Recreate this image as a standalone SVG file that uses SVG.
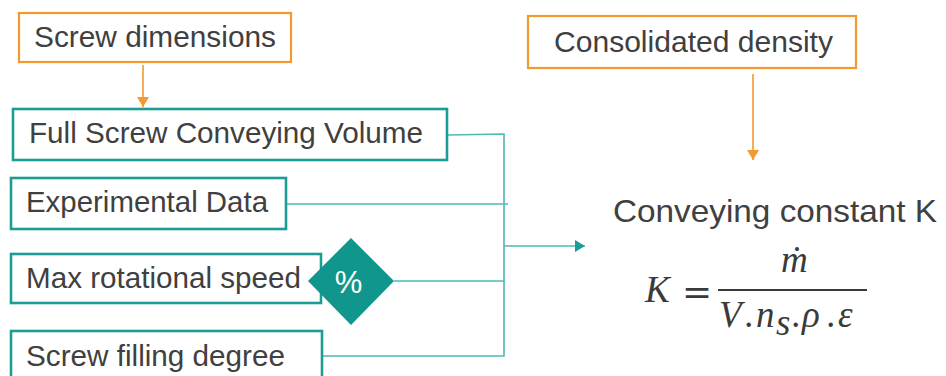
<svg xmlns="http://www.w3.org/2000/svg" width="946" height="376" viewBox="0 0 946 376">
<defs>
<style>
.tbox{fill:#fff;stroke:#1b9d95;stroke-width:2.6}
.obox{fill:#fff;stroke:#f29a2e;stroke-width:2.2}
.lbl{font-family:"Liberation Sans",Arial,sans-serif;font-size:29.5px;fill:#404040}
.con{fill:none;stroke:#4dbab3;stroke-width:1.6}
.ocon{fill:none;stroke:#f29a2e;stroke-width:1.6}
.math{font-family:"Liberation Serif","Times New Roman",serif;font-style:italic;font-size:37px;fill:#3a3a3a}
</style>
<marker id="ah-o" markerWidth="12" markerHeight="12" refX="10" refY="6" orient="auto" markerUnits="userSpaceOnUse"><path d="M0,0 L10,6 L0,12 Z" fill="#f29a2e"/></marker>
<marker id="ah-t" markerWidth="12" markerHeight="12" refX="10" refY="6" orient="auto" markerUnits="userSpaceOnUse"><path d="M0,0 L10,6 L0,12 Z" fill="#1b9d95"/></marker>
</defs>
<rect width="946" height="376" fill="#fff"/>
<g id="connectors">
<line class="ocon" x1="143" y1="65" x2="143" y2="107" marker-end="url(#ah-o)"/>
<line class="ocon" x1="753" y1="74" x2="753" y2="160" marker-end="url(#ah-o)"/>
<polyline class="con" points="447,135 504,134 504,356 322,356"/>
<line class="con" x1="286" y1="204" x2="508" y2="204"/>
<line class="con" x1="394" y1="281" x2="504" y2="281"/>
<line class="con" x1="504" y1="246" x2="585" y2="246" marker-end="url(#ah-t)"/>
</g>
<g id="screw-dimensions">
<rect class="obox" x="19" y="13" width="272" height="49"/>
<text class="lbl" x="34" y="47" textLength="242" lengthAdjust="spacingAndGlyphs">Screw dimensions</text>
</g>
<g id="consolidated-density">
<rect class="obox" x="528" y="16" width="328" height="52"/>
<text class="lbl" x="554" y="52" textLength="279" lengthAdjust="spacingAndGlyphs">Consolidated density</text>
</g>
<g id="full-screw">
<rect class="tbox" x="13" y="109" width="434" height="51"/>
<text class="lbl" x="29" y="143" textLength="394" lengthAdjust="spacingAndGlyphs">Full Screw Conveying Volume</text>
</g>
<g id="experimental-data">
<rect class="tbox" x="11" y="178" width="275" height="51"/>
<text class="lbl" x="26" y="212" textLength="242" lengthAdjust="spacingAndGlyphs">Experimental Data</text>
</g>
<g id="max-speed">
<rect class="tbox" x="11" y="254" width="310" height="49"/>
<text class="lbl" x="26" y="288" textLength="275" lengthAdjust="spacingAndGlyphs">Max rotational speed</text>
</g>
<g id="percent">
<polygon points="351,238 394,281 351,325 308,281" fill="#10968c"/>
<text x="348.5" y="293" text-anchor="middle" font-family="'Liberation Sans',Arial,sans-serif" font-size="31" fill="#fff">%</text>
</g>
<g id="screw-filling">
<rect class="tbox" x="11" y="331" width="311" height="60"/>
<text class="lbl" x="26" y="366" textLength="259" lengthAdjust="spacingAndGlyphs">Screw filling degree</text>
</g>
<g id="conveying-constant">
<text x="613" y="222" font-family="'Liberation Sans',Arial,sans-serif" font-size="32" fill="#404040" textLength="324" lengthAdjust="spacingAndGlyphs">Conveying constant K</text>
<text class="math" x="645" y="302">K</text>
<text x="682" y="304" font-family="'DejaVu Serif',serif" font-size="36" fill="#3a3a3a">=</text>
<text class="math" x="781" y="272">ṁ</text>
<line x1="718" y1="290" x2="867" y2="290" stroke="#3a3a3a" stroke-width="2.2"/>
<text class="math" x="719" y="327">V</text>
<text class="math" x="745" y="327" font-style="normal">.</text>
<text class="math" x="756" y="327">n</text>
<text class="math" x="776" y="335" font-size="26">s</text>
<text class="math" x="792" y="327" font-style="normal">.</text>
<text class="math" x="802" y="327">ρ</text>
<text class="math" x="827" y="327" font-style="normal">.</text>
<text class="math" x="838" y="327">ε</text>
</g>
</svg>
